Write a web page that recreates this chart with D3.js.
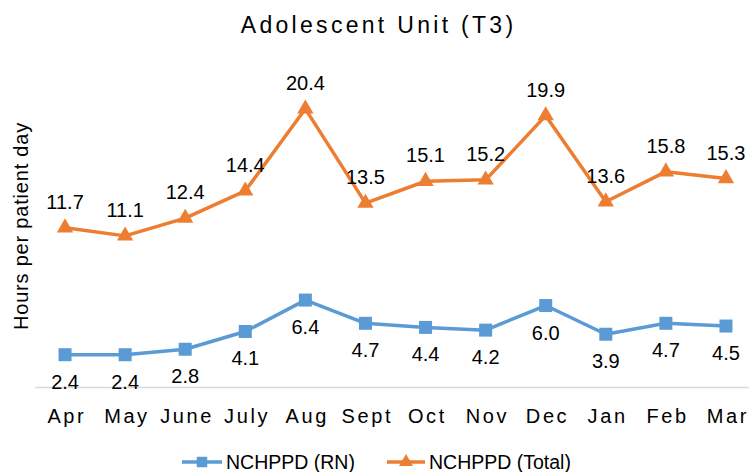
<!DOCTYPE html>
<html>
<head>
<meta charset="utf-8">
<script src="https://cdn.jsdelivr.net/npm/d3@7"></script>
<style>
  html, body { margin: 0; padding: 0; background: #fff; }
  svg { display: block; }
  text { font-family: "Liberation Sans", Arial, sans-serif; fill: #000; }
</style>
</head>
<body>
<svg id="chart" width="749" height="472"></svg>
<script>
const months = ["Apr","May","June","July","Aug","Sept","Oct","Nov","Dec","Jan","Feb","Mar"];
const rnValues = [2.4, 2.4, 2.8, 4.1, 6.4, 4.7, 4.4, 4.2, 6.0, 3.9, 4.7, 4.5];
const totalValues = [11.7, 11.1, 12.4, 14.4, 20.4, 13.5, 15.1, 15.2, 19.9, 13.6, 15.8, 15.3];
const seriesNames = ["NCHPPD (RN)", "NCHPPD (Total)"];
const yDomain = [0, 25];

const blue = "#5B9BD5", orange = "#ED7D31";
const svg = d3.select("#chart");

const x = d3.scalePoint().domain(months).range([35, 756]).padding(0.5);
const y = d3.scaleLinear().domain(yDomain).range([387.5, 46]);

// Title
svg.append("text").attr("x", 377).attr("y", 33).attr("text-anchor", "middle")
  .attr("font-size", 23).attr("letter-spacing", 3.3).attr("dx", 1.6)
  .text("Adolescent Unit (T3)");

// Y label
svg.append("text").attr("transform", "translate(28,226) rotate(-90)")
  .attr("text-anchor", "middle").attr("font-size", 20).attr("letter-spacing", 0.8)
  .text("Hours per patient day");

// X axis
const xAxis = svg.append("g").attr("transform", `translate(0,${y(0)})`)
  .call(d3.axisBottom(x).tickSize(0).tickPadding(0));
xAxis.select(".domain").attr("d", "M35,0H749").attr("stroke", "#d9d9d9").attr("stroke-width", 1.5);
xAxis.selectAll(".tick text").attr("y", 35).attr("dy", 0)
  .attr("font-size", 20).attr("letter-spacing", 2.6).attr("dx", 1.3)
  .attr("fill", "#000").style("font-family", '"Liberation Sans", Arial, sans-serif');

const line = d3.line().x((d, i) => x(months[i])).y(d => y(d));

function drawSeries(vals, color, symType, size, labelOffset) {
  const g = svg.append("g");
  g.append("path").datum(vals).attr("d", line).attr("fill", "none")
    .attr("stroke", color).attr("stroke-width", 3.5).attr("stroke-linejoin", "round");
  g.selectAll("path.m").data(vals).join("path").attr("class", "m")
    .attr("d", d3.symbol().type(symType).size(size))
    .attr("transform", (d, i) => `translate(${x(months[i])},${y(d)})`)
    .attr("fill", color);
  g.selectAll("text").data(vals).join("text")
    .attr("x", (d, i) => x(months[i])).attr("y", d => y(d) + labelOffset)
    .attr("text-anchor", "middle").attr("font-size", 20)
    .text(d => d.toFixed(1));
}

drawSeries(rnValues, blue, d3.symbolSquare, 169, 34);
drawSeries(totalValues, orange, d3.symbolTriangle, 115, -19);

// Legend
const legend = [
  { name: seriesNames[0], color: blue, sym: d3.symbolSquare, size: 110, x0: 182, x1: 222, tx: 226 },
  { name: seriesNames[1], color: orange, sym: d3.symbolTriangle, size: 85, x0: 387, x1: 425, tx: 429 }
];
const ly = 462;
legend.forEach(l => {
  svg.append("line").attr("x1", l.x0).attr("x2", l.x1).attr("y1", ly).attr("y2", ly)
    .attr("stroke", l.color).attr("stroke-width", 3.5);
  svg.append("path").attr("d", d3.symbol().type(l.sym).size(l.size)())
    .attr("transform", `translate(${(l.x0 + l.x1) / 2},${ly})`).attr("fill", l.color);
  svg.append("text").attr("x", l.tx).attr("y", ly + 7).attr("font-size", 19.5).text(l.name);
});
</script>
</body>
</html>
